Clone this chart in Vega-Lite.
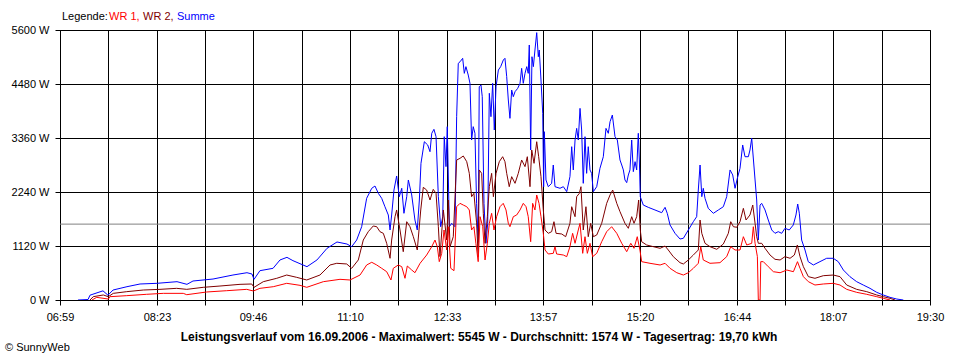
{
"$schema": "https://vega.github.io/schema/vega-lite/v6.json",
"width": 870, "height": 270,
"autosize": {"type": "none"},
"padding": {"left": 60, "top": 30, "right": 30, "bottom": 60},
"background": "white",
"config": {"font": "Liberation Sans", "view": {"stroke": "black", "strokeWidth": 1}},
"datasets": {
"summe": [
{"min":434.5,"watt":0},{"min":443.2,"watt":10},{"min":444.9,"watt":100},{"min":456.1,"watt":190},{"min":460.4,"watt":100},{"min":464.8,"watt":207},{"min":476.8,"watt":276},{"min":488.1,"watt":332},{"min":502.7,"watt":346},{"min":520.0,"watt":380},{"min":528.6,"watt":325},{"min":533.8,"watt":394},{"min":551.1,"watt":435},{"min":568.3,"watt":518},{"min":580.4,"watt":566},{"min":584.7,"watt":539},{"min":586.5,"watt":429},{"min":591.6,"watt":608},{"min":602.9,"watt":657},{"min":608.9,"watt":830},{"min":614.9,"watt":885},{"min":620.1,"watt":816},{"min":632.2,"watt":691},{"min":640.8,"watt":830},{"min":649.5,"watt":1072},{"min":658.1,"watt":1203},{"min":666.7,"watt":1161},{"min":670.8,"watt":1106},{"min":675.1,"watt":1244},{"min":679.4,"watt":1520},{"min":683.7,"watt":2109},{"min":688.1,"watt":2317},{"min":690.9,"watt":2364},{"min":693.8,"watt":2212},{"min":696.7,"watt":2109},{"min":699.5,"watt":1935},{"min":702.4,"watt":1763},{"min":703.9,"watt":1452},{"min":705.3,"watt":1763},{"min":707.3,"watt":2281},{"min":709.6,"watt":2572},{"min":711.9,"watt":2143},{"min":714.0,"watt":2317},{"min":715.9,"watt":1798},{"min":718.3,"watt":2143},{"min":719.7,"watt":2489},{"min":722.6,"watt":2178},{"min":725.4,"watt":1659},{"min":727.4,"watt":1452},{"min":729.2,"watt":2074},{"min":730.6,"watt":2835},{"min":733.5,"watt":3283},{"min":736.4,"watt":3215},{"min":738.4,"watt":3076},{"min":739.9,"watt":3457},{"min":741.8,"watt":3540},{"min":743.6,"watt":3387},{"min":745.6,"watt":2143},{"min":747.6,"watt":1520},{"min":749.4,"watt":1728},{"min":750.7,"watt":3387},{"min":752.2,"watt":2766},{"min":753.3,"watt":3595},{"min":755.1,"watt":1520},{"min":757.1,"watt":1590},{"min":760.0,"watt":1520},{"min":761.4,"watt":3802},{"min":762.8,"watt":4909},{"min":764.3,"watt":4940},{"min":766.6,"watt":5013},{"min":768.0,"watt":4701},{"min":769.4,"watt":4840},{"min":771.4,"watt":4666},{"min":772.9,"watt":4494},{"min":774.3,"watt":3318},{"min":775.7,"watt":3595},{"min":777.2,"watt":3457},{"min":778.6,"watt":2005},{"min":780.0,"watt":1200},{"min":780.9,"watt":4424},{"min":782.4,"watt":4459},{"min":783.5,"watt":4217},{"min":785.0,"watt":2005},{"min":786.7,"watt":1176},{"min":788.2,"watt":1590},{"min":789.6,"watt":4287},{"min":791.0,"watt":3802},{"min":792.5,"watt":4494},{"min":793.9,"watt":3526},{"min":795.4,"watt":4424},{"min":797.4,"watt":4770},{"min":799.4,"watt":4840},{"min":801.7,"watt":4978},{"min":803.1,"watt":5013},{"min":804.6,"watt":4633},{"min":806.0,"watt":4148},{"min":807.4,"watt":3768},{"min":808.9,"watt":4355},{"min":810.3,"watt":4217},{"min":811.8,"watt":4321},{"min":814.1,"watt":4390},{"min":816.1,"watt":4494},{"min":817.5,"watt":4805},{"min":818.9,"watt":4494},{"min":820.4,"watt":4701},{"min":821.9,"watt":4840},{"min":823.2,"watt":4701},{"min":824.1,"watt":5289},{"min":825.3,"watt":3111},{"min":826.4,"watt":5046},{"min":827.6,"watt":4840},{"min":829.0,"watt":5185},{"min":830.5,"watt":5545},{"min":831.9,"watt":5046},{"min":832.7,"watt":5185},{"min":834.2,"watt":4563},{"min":835.7,"watt":3872},{"min":836.5,"watt":2350},{"min":837.1,"watt":3491},{"min":838.5,"watt":2489},{"min":840.5,"watt":2350},{"min":843.4,"watt":2420},{"min":844.8,"watt":2800},{"min":846.3,"watt":2350},{"min":850.6,"watt":2317},{"min":853.5,"watt":2350},{"min":856.4,"watt":2247},{"min":859.2,"watt":2558},{"min":860.7,"watt":3180},{"min":862.1,"watt":2697},{"min":863.6,"watt":3318},{"min":865.0,"watt":3560},{"min":866.4,"watt":3318},{"min":867.9,"watt":3975},{"min":869.3,"watt":3526},{"min":870.7,"watt":2420},{"min":872.2,"watt":3387},{"min":873.6,"watt":2627},{"min":875.0,"watt":3180},{"min":876.5,"watt":2697},{"min":877.9,"watt":2627},{"min":879.4,"watt":2247},{"min":882.3,"watt":2350},{"min":885.1,"watt":2731},{"min":888.0,"watt":2972},{"min":890.3,"watt":3560},{"min":892.3,"watt":3457},{"min":893.8,"watt":3698},{"min":895.8,"watt":3837},{"min":898.1,"watt":3387},{"min":900.1,"watt":3318},{"min":902.4,"watt":2904},{"min":903.9,"watt":2800},{"min":905.3,"watt":2697},{"min":906.7,"watt":2489},{"min":908.2,"watt":2434},{"min":909.6,"watt":2593},{"min":911.0,"watt":2697},{"min":912.5,"watt":3318},{"min":913.9,"watt":2662},{"min":915.4,"watt":2869},{"min":916.8,"watt":2697},{"min":918.2,"watt":3457},{"min":919.1,"watt":2904},{"min":919.9,"watt":2143},{"min":922.5,"watt":1970},{"min":926.8,"watt":1922},{"min":932.6,"watt":1867},{"min":938.4,"watt":1811},{"min":941.3,"watt":1922},{"min":943.2,"watt":1798},{"min":945.6,"watt":1556},{"min":949.9,"watt":1383},{"min":954.2,"watt":1265},{"min":957.1,"watt":1280},{"min":961.4,"watt":1452},{"min":965.7,"watt":1624},{"min":968.6,"watt":1728},{"min":970.0,"watt":2281},{"min":971.5,"watt":2800},{"min":973.0,"watt":2143},{"min":974.3,"watt":2317},{"min":975.8,"watt":2109},{"min":978.6,"watt":1901},{"min":983.0,"watt":1798},{"min":987.3,"watt":1867},{"min":991.6,"watt":1935},{"min":994.5,"watt":2143},{"min":997.4,"watt":2697},{"min":999.7,"watt":2593},{"min":1001.7,"watt":2317},{"min":1003.7,"watt":2524},{"min":1006.0,"watt":2731},{"min":1008.3,"watt":3215},{"min":1010.3,"watt":2972},{"min":1013.2,"watt":2972},{"min":1014.6,"watt":3111},{"min":1016.1,"watt":3353},{"min":1019.0,"watt":2489},{"min":1020.4,"watt":2074},{"min":1021.8,"watt":1244},{"min":1023.3,"watt":1970},{"min":1024.7,"watt":2005},{"min":1027.6,"watt":1867},{"min":1030.4,"watt":1659},{"min":1033.4,"watt":1452},{"min":1036.2,"watt":1383},{"min":1039.0,"watt":1417},{"min":1042.0,"watt":1383},{"min":1044.8,"watt":1487},{"min":1048.5,"watt":1452},{"min":1052.0,"watt":1556},{"min":1054.3,"watt":1763},{"min":1055.8,"watt":1991},{"min":1057.2,"watt":1800},{"min":1059.2,"watt":1244},{"min":1062.1,"watt":1037},{"min":1064.9,"watt":795},{"min":1069.3,"watt":726},{"min":1075.0,"watt":795},{"min":1080.8,"watt":865},{"min":1086.5,"watt":865},{"min":1090.8,"watt":795},{"min":1095.2,"watt":622},{"min":1100.9,"watt":484},{"min":1106.7,"watt":380},{"min":1112.4,"watt":311},{"min":1118.2,"watt":242},{"min":1124.0,"watt":159},{"min":1129.7,"watt":104},{"min":1135.5,"watt":55},{"min":1141.3,"watt":20},{"min":1147.0,"watt":0}
],
"wr2": [
{"min":444.9,"watt":0},{"min":447.7,"watt":69},{"min":456.4,"watt":104},{"min":460.7,"watt":69},{"min":465.0,"watt":138},{"min":476.6,"watt":173},{"min":490.9,"watt":207},{"min":505.3,"watt":221},{"min":519.7,"watt":242},{"min":528.4,"watt":221},{"min":542.7,"watt":263},{"min":557.1,"watt":290},{"min":574.4,"watt":325},{"min":584.5,"watt":332},{"min":586.5,"watt":263},{"min":594.5,"watt":380},{"min":606.1,"watt":450},{"min":614.7,"watt":518},{"min":623.3,"watt":470},{"min":632.0,"watt":415},{"min":643.4,"watt":518},{"min":652.1,"watt":726},{"min":657.9,"watt":761},{"min":666.5,"watt":747},{"min":670.8,"watt":657},{"min":676.5,"watt":830},{"min":680.8,"watt":1244},{"min":685.1,"watt":1417},{"min":689.4,"watt":1535},{"min":692.4,"watt":1520},{"min":695.2,"watt":1417},{"min":698.1,"watt":1383},{"min":701.0,"watt":1176},{"min":703.9,"watt":865},{"min":705.3,"watt":1244},{"min":708.2,"watt":1728},{"min":709.6,"watt":1867},{"min":712.5,"watt":1452},{"min":715.3,"watt":1002},{"min":718.3,"watt":1624},{"min":721.1,"watt":1520},{"min":724.0,"watt":1313},{"min":727.4,"watt":1037},{"min":730.4,"watt":1867},{"min":732.6,"watt":2337},{"min":735.5,"watt":2281},{"min":738.4,"watt":2074},{"min":741.2,"watt":2295},{"min":743.6,"watt":2212},{"min":745.6,"watt":1520},{"min":747.0,"watt":899},{"min":749.9,"watt":1867},{"min":752.8,"watt":1244},{"min":754.2,"watt":2074},{"min":755.7,"watt":1106},{"min":758.5,"watt":1313},{"min":761.4,"watt":2904},{"min":764.3,"watt":2938},{"min":767.1,"watt":2987},{"min":770.1,"watt":2869},{"min":772.3,"watt":2627},{"min":774.3,"watt":2143},{"min":776.3,"watt":2212},{"min":778.6,"watt":1600},{"min":780.0,"watt":900},{"min":780.9,"watt":2697},{"min":783.0,"watt":2627},{"min":784.4,"watt":1798},{"min":785.9,"watt":1176},{"min":787.9,"watt":1728},{"min":789.6,"watt":2350},{"min":791.6,"watt":2627},{"min":793.1,"watt":2143},{"min":795.4,"watt":2627},{"min":798.2,"watt":2869},{"min":801.1,"watt":2972},{"min":803.1,"watt":2869},{"min":804.6,"watt":2627},{"min":806.8,"watt":2350},{"min":808.9,"watt":2558},{"min":811.8,"watt":2420},{"min":814.6,"watt":2627},{"min":817.5,"watt":2904},{"min":820.4,"watt":2766},{"min":822.4,"watt":2972},{"min":824.7,"watt":2350},{"min":826.2,"watt":3111},{"min":828.2,"watt":2835},{"min":830.5,"watt":3283},{"min":832.2,"watt":2972},{"min":834.2,"watt":2558},{"min":836.2,"watt":1867},{"min":837.7,"watt":1452},{"min":840.5,"watt":1383},{"min":843.4,"watt":1417},{"min":845.4,"watt":1624},{"min":847.2,"watt":1383},{"min":852.1,"watt":1369},{"min":855.5,"watt":1313},{"min":859.2,"watt":1590},{"min":860.7,"watt":1935},{"min":863.6,"watt":1728},{"min":865.0,"watt":2143},{"min":867.3,"watt":2212},{"min":868.7,"watt":2350},{"min":870.7,"watt":1452},{"min":873.0,"watt":1935},{"min":875.0,"watt":1313},{"min":877.1,"watt":1590},{"min":879.4,"watt":1313},{"min":882.3,"watt":1348},{"min":886.6,"watt":1590},{"min":890.9,"watt":2005},{"min":893.8,"watt":2178},{"min":896.1,"watt":2281},{"min":899.6,"watt":2005},{"min":902.4,"watt":1832},{"min":906.7,"watt":1590},{"min":909.6,"watt":1487},{"min":912.5,"watt":1728},{"min":914.5,"watt":1590},{"min":916.8,"watt":1728},{"min":918.5,"watt":2074},{"min":919.9,"watt":1452},{"min":921.1,"watt":1209},{"min":925.4,"watt":1141},{"min":931.2,"watt":1106},{"min":937.0,"watt":1072},{"min":941.3,"watt":1120},{"min":944.1,"watt":1037},{"min":948.4,"watt":899},{"min":954.2,"watt":774},{"min":957.1,"watt":747},{"min":961.4,"watt":830},{"min":965.7,"watt":933},{"min":970.0,"watt":1037},{"min":971.5,"watt":1659},{"min":973.0,"watt":1383},{"min":975.8,"watt":1176},{"min":980.1,"watt":1106},{"min":985.9,"watt":1051},{"min":991.6,"watt":1161},{"min":995.9,"watt":1383},{"min":998.0,"watt":1624},{"min":1000.3,"watt":1520},{"min":1003.2,"watt":1508},{"min":1006.0,"watt":1624},{"min":1008.9,"watt":1901},{"min":1011.2,"watt":1659},{"min":1014.6,"watt":1763},{"min":1017.0,"watt":1970},{"min":1019.0,"watt":1590},{"min":1020.4,"watt":1313},{"min":1021.8,"watt":1176},{"min":1024.7,"watt":1176},{"min":1027.6,"watt":1072},{"min":1031.9,"watt":933},{"min":1036.2,"watt":844},{"min":1040.6,"watt":830},{"min":1044.8,"watt":899},{"min":1049.2,"watt":865},{"min":1052.9,"watt":933},{"min":1055.5,"watt":1141},{"min":1057.8,"watt":899},{"min":1060.7,"watt":691},{"min":1065.0,"watt":484},{"min":1070.7,"watt":450},{"min":1077.9,"watt":504},{"min":1086.5,"watt":518},{"min":1092.3,"watt":484},{"min":1098.1,"watt":311},{"min":1106.7,"watt":221},{"min":1115.4,"watt":173},{"min":1124.0,"watt":104},{"min":1129.7,"watt":69},{"min":1135.5,"watt":35},{"min":1139.8,"watt":0}
],
"wr1": [
{"min":446.6,"watt":0},{"min":450.7,"watt":55},{"min":460.7,"watt":20},{"min":462.2,"watt":69},{"min":476.6,"watt":90},{"min":493.8,"watt":118},{"min":508.2,"watt":138},{"min":525.4,"watt":138},{"min":528.4,"watt":110},{"min":545.6,"watt":166},{"min":562.9,"watt":193},{"min":580.2,"watt":221},{"min":585.9,"watt":187},{"min":591.6,"watt":242},{"min":603.1,"watt":276},{"min":614.7,"watt":346},{"min":626.2,"watt":304},{"min":632.0,"watt":263},{"min":646.3,"watt":380},{"min":660.7,"watt":429},{"min":669.3,"watt":415},{"min":678.0,"watt":518},{"min":683.7,"watt":726},{"min":688.1,"watt":782},{"min":692.4,"watt":726},{"min":696.7,"watt":657},{"min":701.0,"watt":587},{"min":704.7,"watt":415},{"min":706.7,"watt":657},{"min":711.0,"watt":726},{"min":714.0,"watt":691},{"min":716.8,"watt":450},{"min":718.8,"watt":705},{"min":722.6,"watt":622},{"min":725.4,"watt":566},{"min":729.8,"watt":761},{"min":735.5,"watt":933},{"min":739.9,"watt":1106},{"min":742.7,"watt":1244},{"min":744.7,"watt":1106},{"min":746.4,"watt":795},{"min":748.5,"watt":968},{"min":750.5,"watt":1452},{"min":752.8,"watt":1037},{"min":754.2,"watt":1520},{"min":756.3,"watt":657},{"min":759.1,"watt":608},{"min":761.4,"watt":1935},{"min":764.3,"watt":2005},{"min":767.1,"watt":1970},{"min":770.1,"watt":1935},{"min":772.3,"watt":1867},{"min":774.3,"watt":1452},{"min":776.3,"watt":1520},{"min":778.0,"watt":1176},{"min":780.0,"watt":795},{"min":781.6,"watt":1728},{"min":783.9,"watt":1520},{"min":785.9,"watt":830},{"min":787.9,"watt":1176},{"min":789.6,"watt":1590},{"min":791.6,"watt":1798},{"min":793.6,"watt":1452},{"min":795.9,"watt":1728},{"min":798.8,"watt":1935},{"min":801.6,"watt":2005},{"min":804.0,"watt":1867},{"min":806.0,"watt":1590},{"min":807.4,"watt":1520},{"min":810.3,"watt":1728},{"min":813.2,"watt":1763},{"min":816.1,"watt":1867},{"min":818.9,"watt":2005},{"min":821.3,"watt":1935},{"min":823.2,"watt":1728},{"min":825.3,"watt":1209},{"min":827.0,"watt":2005},{"min":829.0,"watt":1867},{"min":830.5,"watt":2178},{"min":832.5,"watt":2005},{"min":834.2,"watt":1728},{"min":836.2,"watt":1383},{"min":837.7,"watt":1037},{"min":840.5,"watt":954},{"min":844.8,"watt":968},{"min":846.3,"watt":1106},{"min":847.7,"watt":954},{"min":853.5,"watt":933},{"min":856.4,"watt":899},{"min":859.2,"watt":1106},{"min":861.5,"watt":1383},{"min":863.6,"watt":1176},{"min":866.4,"watt":1452},{"min":867.9,"watt":1590},{"min":870.2,"watt":968},{"min":872.2,"watt":1313},{"min":874.2,"watt":968},{"min":876.5,"watt":1176},{"min":878.8,"watt":899},{"min":882.3,"watt":968},{"min":886.6,"watt":1209},{"min":890.9,"watt":1417},{"min":895.2,"watt":1520},{"min":899.6,"watt":1383},{"min":903.9,"watt":1176},{"min":908.2,"watt":1002},{"min":911.7,"watt":1176},{"min":914.5,"watt":1072},{"min":917.3,"watt":1313},{"min":919.6,"watt":1037},{"min":921.1,"watt":795},{"min":928.3,"watt":761},{"min":937.0,"watt":726},{"min":941.3,"watt":761},{"min":945.6,"watt":657},{"min":951.4,"watt":566},{"min":957.1,"watt":518},{"min":961.4,"watt":566},{"min":965.7,"watt":657},{"min":970.0,"watt":761},{"min":972.1,"watt":1106},{"min":974.3,"watt":830},{"min":980.1,"watt":761},{"min":988.7,"watt":774},{"min":994.5,"watt":899},{"min":998.0,"watt":1106},{"min":1001.7,"watt":1037},{"min":1006.0,"watt":1037},{"min":1008.9,"watt":1313},{"min":1011.8,"watt":1141},{"min":1016.1,"watt":1176},{"min":1017.5,"watt":1520},{"min":1019.0,"watt":1176},{"min":1021.0,"watt":899},{"min":1021.8,"watt":0},{"min":1023.3,"watt":0},{"min":1023.9,"watt":795},{"min":1026.1,"watt":795},{"min":1030.4,"watt":691},{"min":1034.8,"watt":587},{"min":1040.6,"watt":566},{"min":1046.4,"watt":622},{"min":1052.1,"watt":587},{"min":1055.6,"watt":795},{"min":1057.8,"watt":657},{"min":1060.7,"watt":484},{"min":1065.0,"watt":380},{"min":1070.7,"watt":311},{"min":1077.9,"watt":332},{"min":1086.5,"watt":346},{"min":1092.3,"watt":311},{"min":1098.1,"watt":221},{"min":1106.7,"watt":159},{"min":1115.4,"watt":118},{"min":1124.0,"watt":69},{"min":1129.7,"watt":35},{"min":1135.5,"watt":0}
]
},
"layer": [
{"data": {"values": [{"avg": 1574}]}, "mark": {"type": "rule", "color": "#808080", "strokeWidth": 1},
 "encoding": {"y": {"field": "avg", "type": "quantitative", "scale": {"domain": [0, 5600], "nice": false, "zero": true},
   "axis": {"values": [0,1120,2240,3360,4480,5600], "labelExpr": "datum.value + ' W'", "grid": true, "gridColor": "black", "gridOpacity": 1, "gridWidth": 1, "domainColor": "black", "tickColor": "black", "tickSize": 5, "labelColor": "black", "labelFont": "Liberation Sans", "labelFontSize": 11, "labelPadding": 6, "title": null}}}},
{"data": {"name": "summe"}, "mark": {"type": "line", "color": "#0000FF", "strokeWidth": 1, "clip": true},
 "encoding": {
  "x": {"field": "min", "type": "quantitative", "scale": {"domain": [419, 1170], "nice": false, "zero": false},
   "axis": {"values": [419,460.4345,502.7322,544.1667,585.601,627.899,669.333,710.768,753.065,794.5,835.934,878.232,919.667,961.101,1003.399,1044.833,1086.268,1128.565,1170], "labelExpr": "['06:59','','08:23','','09:46','','11:10','','12:33','','13:57','','15:20','','16:44','','18:07','','19:30'][round((datum.value-419)/41.7222)]", "grid": true, "gridColor": "black", "gridOpacity": 1, "gridWidth": 1, "domainColor": "black", "tickColor": "black", "tickSize": 5, "labelColor": "black", "labelFont": "Liberation Sans", "labelFontSize": 11, "labelPadding": 6, "labelFlush": false, "labelOverlap": false, "title": null}},
  "y": {"field": "watt", "type": "quantitative", "scale": {"domain": [0, 5600], "nice": false, "zero": true},
   "axis": {"values": [0,1120,2240,3360,4480,5600], "labelExpr": "datum.value + ' W'", "grid": true, "gridColor": "black", "gridOpacity": 1, "gridWidth": 1, "domainColor": "black", "tickColor": "black", "tickSize": 5, "labelColor": "black", "labelFont": "Liberation Sans", "labelFontSize": 11, "labelPadding": 6, "title": null}}}},
{"data": {"name": "wr2"}, "mark": {"type": "line", "color": "#800000", "strokeWidth": 1, "clip": true},
 "encoding": {
  "x": {"field": "min", "type": "quantitative", "scale": {"domain": [419, 1170], "nice": false, "zero": false},
   "axis": {"values": [419,460.4345,502.7322,544.1667,585.601,627.899,669.333,710.768,753.065,794.5,835.934,878.232,919.667,961.101,1003.399,1044.833,1086.268,1128.565,1170], "labelExpr": "['06:59','','08:23','','09:46','','11:10','','12:33','','13:57','','15:20','','16:44','','18:07','','19:30'][round((datum.value-419)/41.7222)]", "grid": true, "gridColor": "black", "gridOpacity": 1, "gridWidth": 1, "domainColor": "black", "tickColor": "black", "tickSize": 5, "labelColor": "black", "labelFont": "Liberation Sans", "labelFontSize": 11, "labelPadding": 6, "labelFlush": false, "labelOverlap": false, "title": null}},
  "y": {"field": "watt", "type": "quantitative", "scale": {"domain": [0, 5600], "nice": false, "zero": true},
   "axis": {"values": [0,1120,2240,3360,4480,5600], "labelExpr": "datum.value + ' W'", "grid": true, "gridColor": "black", "gridOpacity": 1, "gridWidth": 1, "domainColor": "black", "tickColor": "black", "tickSize": 5, "labelColor": "black", "labelFont": "Liberation Sans", "labelFontSize": 11, "labelPadding": 6, "title": null}}}},
{"data": {"name": "wr1"}, "mark": {"type": "line", "color": "#FF0000", "strokeWidth": 1, "clip": true},
 "encoding": {
  "x": {"field": "min", "type": "quantitative", "scale": {"domain": [419, 1170], "nice": false, "zero": false},
   "axis": {"values": [419,460.4345,502.7322,544.1667,585.601,627.899,669.333,710.768,753.065,794.5,835.934,878.232,919.667,961.101,1003.399,1044.833,1086.268,1128.565,1170], "labelExpr": "['06:59','','08:23','','09:46','','11:10','','12:33','','13:57','','15:20','','16:44','','18:07','','19:30'][round((datum.value-419)/41.7222)]", "grid": true, "gridColor": "black", "gridOpacity": 1, "gridWidth": 1, "domainColor": "black", "tickColor": "black", "tickSize": 5, "labelColor": "black", "labelFont": "Liberation Sans", "labelFontSize": 11, "labelPadding": 6, "labelFlush": false, "labelOverlap": false, "title": null}},
  "y": {"field": "watt", "type": "quantitative", "scale": {"domain": [0, 5600], "nice": false, "zero": true},
   "axis": {"values": [0,1120,2240,3360,4480,5600], "labelExpr": "datum.value + ' W'", "grid": true, "gridColor": "black", "gridOpacity": 1, "gridWidth": 1, "domainColor": "black", "tickColor": "black", "tickSize": 5, "labelColor": "black", "labelFont": "Liberation Sans", "labelFontSize": 11, "labelPadding": 6, "title": null}}}},
{"data": {"values": [{}]}, "mark": {"type": "text", "text": "Legende:", "font": "Liberation Sans", "fontSize": 11, "color": "black", "align": "left", "baseline": "middle"}, "encoding": {"x": {"value": 2}, "y": {"value": -13}}},
{"data": {"values": [{}]}, "mark": {"type": "text", "text": "WR 1,", "font": "Liberation Sans", "fontSize": 11, "color": "#FF0000", "align": "left", "baseline": "middle"}, "encoding": {"x": {"value": 49}, "y": {"value": -13}}},
{"data": {"values": [{}]}, "mark": {"type": "text", "text": "WR 2,", "font": "Liberation Sans", "fontSize": 11, "color": "#800000", "align": "left", "baseline": "middle"}, "encoding": {"x": {"value": 83}, "y": {"value": -13}}},
{"data": {"values": [{}]}, "mark": {"type": "text", "text": "Summe", "font": "Liberation Sans", "fontSize": 11, "color": "#0000FF", "align": "left", "baseline": "middle"}, "encoding": {"x": {"value": 117}, "y": {"value": -13}}},
{"data": {"values": [{}]}, "mark": {"type": "text", "text": "Leistungsverlauf vom 16.09.2006 - Maximalwert: 5545 W - Durchschnitt: 1574 W - Tagesertrag: 19,70 kWh", "font": "Liberation Sans", "fontSize": 12, "fontWeight": "bold", "color": "black", "align": "center", "baseline": "middle"}, "encoding": {"x": {"value": 419}, "y": {"value": 307}}},
{"data": {"values": [{}]}, "mark": {"type": "text", "text": "© SunnyWeb", "font": "Liberation Sans", "fontSize": 11, "color": "black", "align": "left", "baseline": "middle"}, "encoding": {"x": {"value": -55}, "y": {"value": 318}}}
]
}
